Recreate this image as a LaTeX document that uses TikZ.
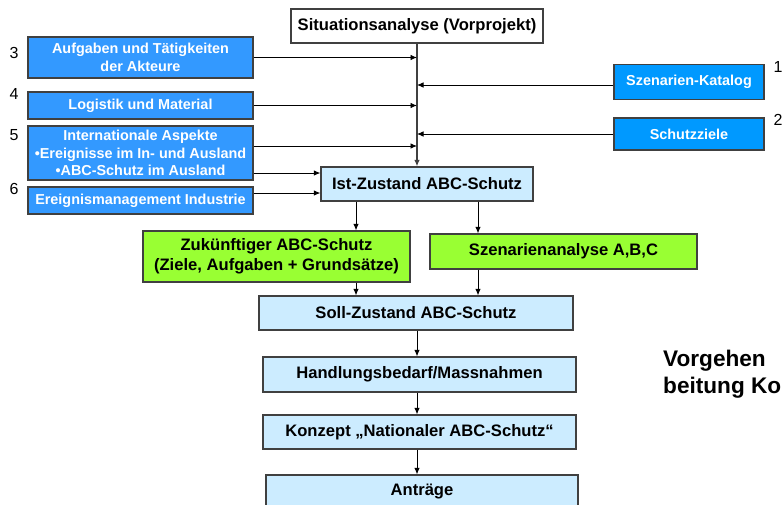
\documentclass[tikz,border=0pt]{standalone}
\usepackage{fontspec}
\setmainfont{Liberation Sans}
\usetikzlibrary{arrows.meta}
\definecolor{aspectblue}{HTML}{3399FF}
\definecolor{sourceblue}{HTML}{0099FF}
\definecolor{goalgreen}{HTML}{99FF33}
\definecolor{phaseblue}{HTML}{CCECFF}
\definecolor{frame}{HTML}{404040}
\begin{document}
\begin{tikzpicture}[x=1pt,y=-1pt,
    box/.style ={draw=frame, line width=1.2pt, inner sep=1pt, align=center, font=\fontsize{16.6}{20}\selectfont\bfseries},
    aspect/.style ={box, fill=aspectblue, text=white, minimum width=225pt, font=\fontsize{14.4}{17.5}\selectfont\bfseries},
    source/.style ={aspect, fill=sourceblue, minimum width=150pt},
    phase/.style ={box, fill=phaseblue, minimum height=34pt},
    goal/.style ={box, fill=goalgreen, minimum width=267pt},
    number/.style ={font=\fontsize{16}{18}\selectfont},
    link/.style ={-{Latex[length=6.5pt,width=5.5pt]}, line width=0.9pt}]
   \useasboundingbox (0,0) rectangle (784,504);
   \clip (0,0) rectangle (784,504);
   \fill[white] (0,0) rectangle (784,504);
   % start and sources
   \node[box, fill=white, minimum width=252pt, minimum height=34pt] (sit) at (417,26) {Situationsanalyse (Vorprojekt)};
   \node[aspect, minimum height=41pt] (auf) at (140.5,57.5) {Aufgaben und Tätigkeiten\\der Akteure};
   \node[aspect, minimum height=27pt] (log) at (140.5,105.5) {Logistik und Material};
   \node[aspect, minimum height=54pt] (int) at (140.5,153) {Internationale Aspekte\\•Ereignisse im In- und Ausland\\•ABC-Schutz im Ausland};
   \node[aspect, minimum height=27pt] (ind) at (140.5,200.5) {Ereignismanagement Industrie};
   \node[source, minimum height=35pt] (kat) at (689,82) {Szenarien-Katalog};
   \node[source, minimum height=32pt] (ziel) at (689,134) {Schutzziele};
   \node[number] (n1) at (778,67) {1};
   \node[number] (n2) at (778,120) {2};
   \node[number] (n3) at (14,53) {3};
   \node[number] (n4) at (14,94) {4};
   \node[number] (n5) at (14,135) {5};
   \node[number] (n6) at (14,189) {6};
   % phases
   \node[phase, minimum width=212pt] (ist) at (427,184) {Ist-Zustand ABC-Schutz};
   \node[goal, minimum height=51pt] (zuk) at (276.5,256.5) {Zukünftiger ABC-Schutz\\(Ziele, Aufgaben + Grundsätze)};
   \node[goal, minimum height=35pt] (szen) at (563.5,251.5) {Szenarienanalyse A,B,C};
   \node[phase, minimum width=314pt] (soll) at (416,313) {Soll-Zustand ABC-Schutz};
   \node[phase, minimum width=313pt, minimum height=35pt] (hand) at (419.5,374.5) {Handlungsbedarf/Massnahmen};
   \node[phase, minimum width=313pt] (konz) at (419.5,432) {Konzept „Nationaler ABC-Schutz“};
   \node[phase, minimum width=312pt] (antr) at (422,492) {Anträge};
   \node[anchor=base west, inner sep=0pt, font=\fontsize{22.6}{26}\selectfont\bfseries] (vor) at (663,366) {Vorgehen};
   \node[anchor=base west, inner sep=0pt, font=\fontsize{22.6}{26}\selectfont\bfseries] (bei) at (663,393) {beitung Ko};
   \coordinate (cl) at (356,0);
   \coordinate (cr) at (478,0);
   % connectors
   \draw[link, draw=frame, line width=1.8pt] (sit.south) -- (sit.south |- ist.north);
   \draw[link] (auf.east) -- (auf.east -| sit.south);
   \draw[link] (log.east) -- (log.east -| sit.south);
   \draw[link] ([yshift=7pt]int.east) -- ([yshift=7pt]int.east -| sit.south);
   \draw[link] ([yshift=-20pt]int.east) -- ([yshift=-20pt]int.east -| ist.west);
   \draw[link] ([yshift=7.5pt]ind.east) -- ([yshift=7.5pt]ind.east -| ist.west);
   \draw[link] ([yshift=-3pt]kat.west) -- ([yshift=-3pt]kat.west -| sit.south);
   \draw[link] (ziel.west) -- (ziel.west -| sit.south);
   \draw[link] (ist.south -| cl) -- (zuk.north -| cl);
   \draw[link] (ist.south -| cr) -- (szen.north -| cr);
   \draw[link] (zuk.south -| cl) -- (soll.north -| cl);
   \draw[link] (szen.south -| cr) -- (soll.north -| cr);
   \draw[link] (soll.south -| sit.south) -- (hand.north -| sit.south);
   \draw[link] (hand.south -| sit.south) -- (konz.north -| sit.south);
   \draw[link] (konz.south -| sit.south) -- (antr.north -| sit.south);
\end{tikzpicture}
\end{document}
